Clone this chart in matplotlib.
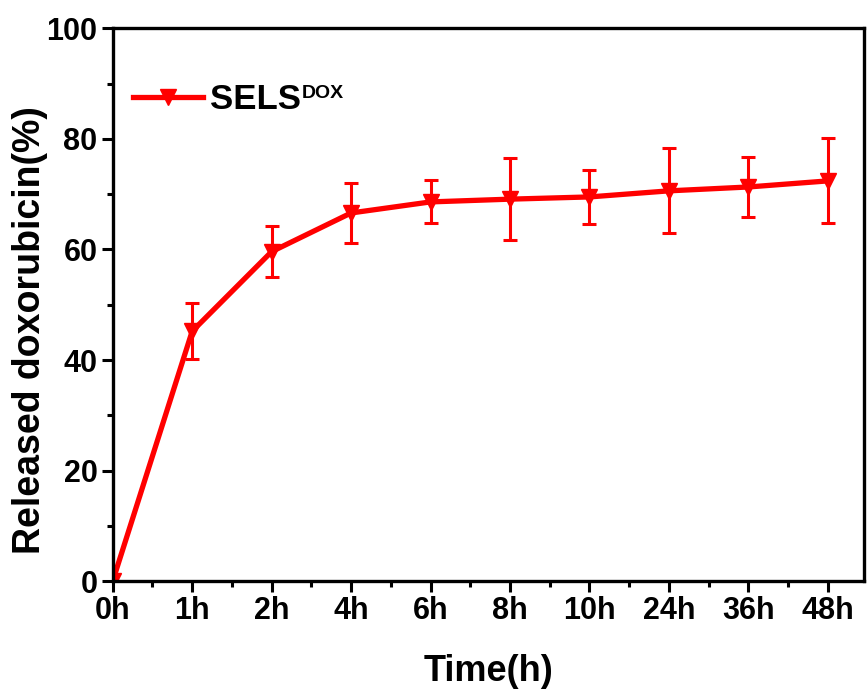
import matplotlib
matplotlib.use("Agg")

import matplotlib.pyplot as plt
from matplotlib.lines import Line2D
from matplotlib.ticker import MultipleLocator

plt.rcParams["font.family"] = ["Liberation Sans", "DejaVu Sans"]
plt.rcParams["font.weight"] = "bold"

time_labels = ["0h", "1h", "2h", "4h", "6h", "8h", "10h", "24h", "36h", "48h"]
released = [0.0, 45.2, 59.6, 66.6, 68.6, 69.1, 69.5, 70.6, 71.3, 72.4]
err = [0.0, 5.1, 4.6, 5.5, 3.9, 7.4, 4.9, 7.7, 5.4, 7.7]

RED = "#ff0000"

fig = plt.figure(figsize=(8.67, 6.91), dpi=100)
ax = fig.add_axes([0.130, 0.159, 0.866, 0.800])

x = list(range(len(time_labels)))
ax.errorbar(
    x, released, yerr=err,
    color=RED, ecolor=RED,
    linewidth=3.8, marker="v", markersize=11,
    elinewidth=2.2, capsize=5, capthick=2.2,
)

ax.set_xlim(0, 9.45)
ax.set_ylim(0, 100)
ax.set_xticks(x)
ax.set_xticklabels(time_labels)
ax.xaxis.set_minor_locator(MultipleLocator(0.5))
ax.yaxis.set_major_locator(MultipleLocator(20))
ax.yaxis.set_minor_locator(MultipleLocator(10))

ax.tick_params(which="major", direction="out", length=8, width=2.2,
               labelsize=22, pad=3, top=False, right=False)
ax.tick_params(which="minor", direction="out", length=4.5, width=2.2,
               top=False, right=False)
for lab in ax.get_xticklabels() + ax.get_yticklabels():
    lab.set_fontweight("bold")

for side in ["left", "bottom", "top", "right"]:
    ax.spines[side].set_linewidth(2.4)

ax.set_xlabel("Time(h)", fontsize=26, fontweight="bold", labelpad=20)
ax.set_ylabel("Released doxorubicin(%)", fontsize=27, fontweight="bold")
ax.yaxis.set_label_coords(-0.0866, 0.454)

handle = Line2D([], [], color=RED, linewidth=3.8, marker="v", markersize=11)
leg = ax.legend([handle], ["SELS"], loc="upper left", bbox_to_anchor=(-0.014, 0.958),
                frameon=False, fontsize=25, handlelength=2.0, handletextpad=0.2)

# superscript placed by hand, smaller than mathtext would make it
fig.canvas.draw()
bb = leg.get_texts()[0].get_window_extent()
fx, fy = fig.transFigure.inverted().transform((bb.x1 + 1, bb.y1 - 2))
fig.text(fx, fy, "DOX", fontsize=14, fontweight="bold", ha="left", va="top")

fig.savefig("out.png", dpi=100)
